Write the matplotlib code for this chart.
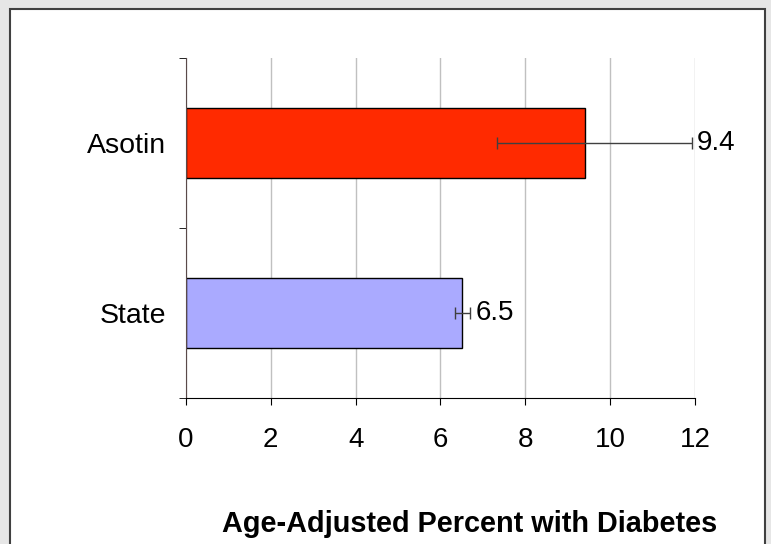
import matplotlib.pyplot as plt
from matplotlib.patches import Rectangle

plt.rcParams['font.family'] = ['Liberation Sans', 'DejaVu Sans']

categories = ["State", "Asotin"]
values = [6.5, 9.4]
err_low = [6.34, 7.33]
err_high = [6.70, 11.93]
colors = ["#aaaaff", "#ff2a00"]
xticks = [0, 2, 4, 6, 8, 10, 12]

fig = plt.figure(figsize=(7.71, 5.44), dpi=100)
fig.patch.set_facecolor("#e6e6e6")
fig.patches.append(Rectangle((0.013, -0.02), 0.979, 1.003, transform=fig.transFigure,
                             facecolor="white", edgecolor="#404040", linewidth=1.5, zorder=-10))

ax = fig.add_axes([0.2412, 0.2684, 0.6602, 0.625])
ax.set_facecolor("none")
ax.set_zorder(1)

pos = list(range(len(categories)))
ax.barh(pos, values, height=0.41, color=colors, edgecolor="black", linewidth=1, zorder=2)

xerr = [[v - lo for v, lo in zip(values, err_low)], [hi - v for v, hi in zip(values, err_high)]]
ax.errorbar(values, pos, xerr=xerr, fmt="none", ecolor="#404040", elinewidth=1,
            capsize=4, capthick=1, zorder=3)

for p, v, hi in zip(pos, values, err_high):
    ax.text(hi + 0.12, p, f"{v}", va="center", ha="left", fontsize=20, zorder=4)

ax.set_xlim(0, 12)
ax.set_ylim(-0.5, 1.5)
ax.set_xticks(xticks)
ax.set_xticklabels([str(t) for t in xticks], fontsize=20)
ax.set_yticks(pos)
ax.set_yticklabels(categories, fontsize=20.5)
ax.set_yticks([-0.5, 0.5, 1.5], minor=True)
ax.tick_params(axis="y", which="major", length=0, pad=14)
ax.tick_params(axis="y", which="minor", length=5, direction="out", color="black")
ax.tick_params(axis="x", length=5, direction="out", pad=16)

ax.grid(axis="x", color="#c0c0c0", linewidth=1, zorder=0)
ax.set_axisbelow(True)
for s in ["top", "right"]:
    ax.spines[s].set_visible(False)
ax.spines["left"].set_color("#5a4a4a")
ax.spines["bottom"].set_color("black")

ax.set_xlabel("Age-Adjusted Percent with Diabetes", fontsize=20.8, fontweight="bold",
              labelpad=41, x=0.557)

fig.savefig("out.png", dpi=100, facecolor=fig.get_facecolor())
